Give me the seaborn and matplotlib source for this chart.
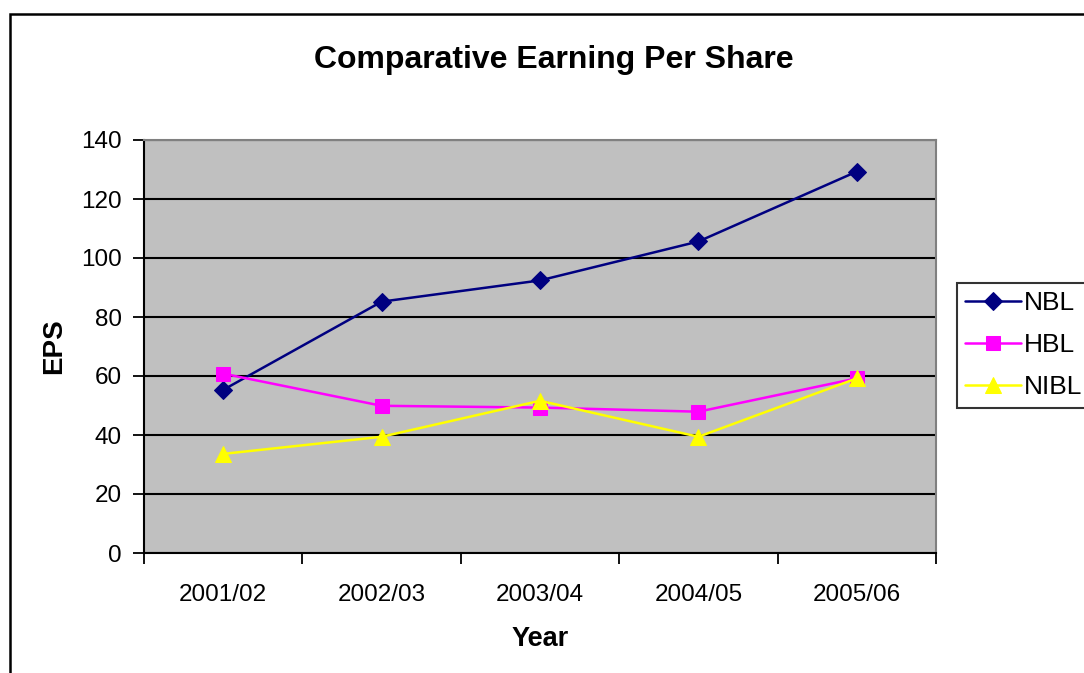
import matplotlib
matplotlib.use("Agg")
import matplotlib.pyplot as plt
import seaborn as sns
import pandas as pd
from matplotlib.patches import Rectangle
from matplotlib.ticker import FixedLocator, NullFormatter

years = ["2001/02", "2002/03", "2003/04", "2004/05", "2005/06"]
nbl = [55.3, 85.2, 92.4, 105.6, 129.3]
hbl = [60.8, 49.9, 49.3, 47.9, 59.2]
nibl = [33.6, 39.4, 51.6, 39.4, 59.2]
series = ["NBL", "HBL", "NIBL"]
colors = ["#000080", "#FF00FF", "#FFFF00"]
markers = ["D", "s", "^"]
msizes = [9.5, 9.5, 11]

sns.set_theme(style="white")
plt.rcParams["font.family"] = ["Liberation Sans", "DejaVu Sans"]
for k in ["text.color", "axes.labelcolor", "xtick.color", "ytick.color"]:
    plt.rcParams[k] = "black"

fig = plt.figure(figsize=(10.84, 6.73), dpi=100)
ax = fig.add_axes([144/1084, 1-553/673, (936-144)/1084, (553-140)/673])
ax.set_facecolor("#C0C0C0")

pos = list(range(len(years)))
for name, vals, c, m, ms in zip(series, [nbl, hbl, nibl], colors, markers, msizes):
    df = pd.DataFrame({"x": pos, "y": vals})
    sns.lineplot(data=df, x="x", y="y", ax=ax, color=c, marker=m, markersize=ms,
                 markeredgecolor=c, markerfacecolor=c, linewidth=1.8, label=name,
                 legend=False)

ax.set_xlim(-0.5, len(years) - 0.5)
ax.set_ylim(0, 140)
ax.set_yticks(range(0, 141, 20))
ax.xaxis.set_major_locator(FixedLocator([i - 0.5 for i in range(len(years) + 1)]))
ax.xaxis.set_major_formatter(NullFormatter())
ax.xaxis.set_minor_locator(FixedLocator(pos))
ax.set_xticklabels(years, minor=True)
ax.tick_params(axis="x", which="major", direction="out", length=8, width=1.3, color="black", bottom=True)
ax.tick_params(axis="x", which="minor", length=0, pad=22, labelsize=17.5)
ax.tick_params(axis="y", which="major", direction="out", length=8, width=1.3, color="black", left=True, labelsize=17.5, pad=8)

ax.grid(axis="y", color="black", linewidth=1.5)
ax.grid(axis="x", visible=False)
ax.set_axisbelow(True)
for s in ["top", "right"]:
    ax.spines[s].set_color("#808080")
    ax.spines[s].set_linewidth(1.5)
for s in ["left", "bottom"]:
    ax.spines[s].set_color("black")
    ax.spines[s].set_linewidth(1.5)

ax.set_xlabel("Year", fontsize=19.5, fontweight="bold", labelpad=15)
ax.set_ylabel("EPS", fontsize=20, fontweight="bold", labelpad=10)
fig.text(554/1084, 1-60/673, "Comparative Earning Per Share", ha="center", va="center",
         fontsize=23, fontweight="bold")

handles, labels = ax.get_legend_handles_labels()
leg = fig.legend(handles, labels, loc="upper left", bbox_to_anchor=(957/1084, 1-283/673),
                 frameon=True, fancybox=False, edgecolor="black", fontsize=19,
                 handlelength=2.1, labelspacing=0.68, borderpad=0.32, handletextpad=0.12,
                 borderaxespad=0)
leg.get_frame().set_linewidth(1.5)

fig.patches.append(Rectangle((10/1084, -0.2), 1.5, 1.2 - 14/673, transform=fig.transFigure,
                             fill=False, edgecolor="black", linewidth=1.8))

fig.savefig("out.png", dpi=100, facecolor="white")
